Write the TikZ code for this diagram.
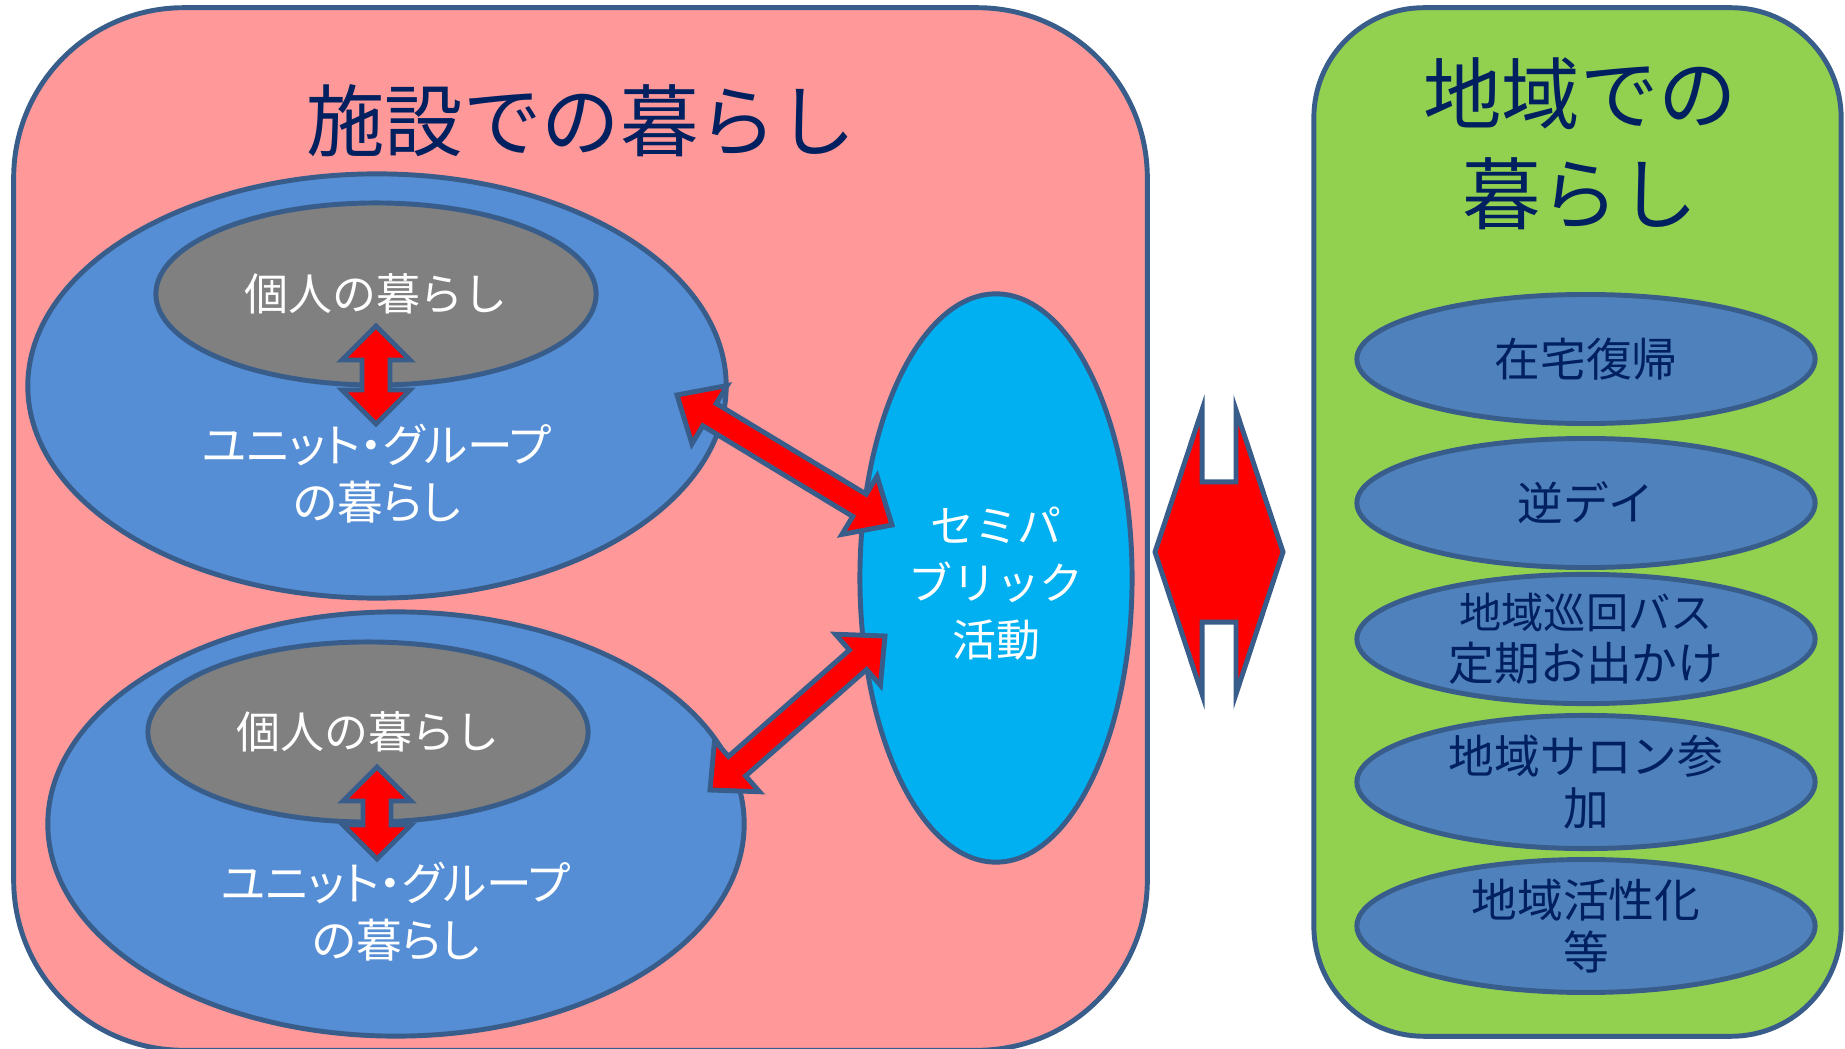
\documentclass[tikz,border=0pt]{standalone}
\usepackage{fontspec}
\setmainfont{Noto Sans CJK JP}
\usetikzlibrary{calc}
\usetikzlibrary{shapes.geometric}

\definecolor{navy}{HTML}{002060}
\definecolor{edge}{HTML}{385D8A}
\definecolor{facility}{HTML}{FF9999}
\definecolor{community}{HTML}{92D050}
\definecolor{unitblue}{HTML}{558ED5}
\definecolor{semipub}{HTML}{00B0F0}
\definecolor{itemblue}{HTML}{4F81BD}

\newcommand\twowayarrow[5]{%
  \draw[fatarrow] (#1) -- ($(#1)!#3!(#2)!#4!90:(#2)$) -- ($(#1)!#3!(#2)!#5!90:(#2)$)
    -- ($(#2)!#3!(#1)!#5!-90:(#1)$) -- ($(#2)!#3!(#1)!#4!-90:(#1)$) -- (#2)
    -- ($(#2)!#3!(#1)!#4!90:(#1)$) -- ($(#2)!#3!(#1)!#5!90:(#1)$)
    -- ($(#1)!#3!(#2)!#5!-90:(#2)$) -- ($(#1)!#3!(#2)!#4!-90:(#2)$) -- cycle;}

\begin{document}
\begin{tikzpicture}[x=0.01cm, y=-0.01cm,
  outline/.style={draw=edge, line width=1.4pt},
  oval/.style={outline, ellipse, inner sep=0pt},
  fatarrow/.style={outline, fill=red, line join=miter},
  headline/.style={text=navy, font=\fontsize{22.3}{28.5}\selectfont, align=center},
  whitetext/.style={text=white, font=\fontsize{12.5}{16.2}\selectfont, align=center},
  unittext/.style={whitetext, font=\fontsize{13}{16.2}\selectfont\addfontfeatures{RawFeature=+palt}},
  navytext/.style={text=navy, font=\fontsize{13}{14.8}\selectfont, align=center}]

  \useasboundingbox (0, 0) rectangle (1845, 1049);

  \node[outline, fill=facility, rounded corners=1.7cm, minimum width=11.33cm, minimum height=10.42cm] (facility) at (580.5, 529) {};
  \node[outline, fill=community, rounded corners=1.1cm, minimum width=5.27cm, minimum height=10.28cm] (community) at (1577.5, 522) {};

  \node[headline] (facilitytitle) at (581, 121) {施設での暮らし};
  \node[headline] (communitytitle) at (1580, 144) {地域での\\暮らし};

  \node[oval, fill=unitblue, minimum width=6.98cm, minimum height=4.24cm] (unitA) at (377, 386) {};
  \node[oval, fill=gray, minimum width=4.4cm, minimum height=1.82cm, whitetext] (personA) at (376, 294) {個人の暮らし};
  \node[unittext] (unitAtext) at (377, 474) {ユニット・グループ\\の暮らし};

  \node[oval, fill=unitblue, minimum width=6.96cm, minimum height=4.24cm] (unitB) at (396, 824) {};
  \node[oval, fill=gray, minimum width=4.4cm, minimum height=1.8cm, whitetext] (personB) at (368, 732) {個人の暮らし};
  \node[unittext] (unitBtext) at (396, 912) {ユニット・グループ\\の暮らし};

  \node[oval, fill=semipub, minimum width=2.72cm, minimum height=5.68cm] (semipublic) at (996, 578) {};
  \node[whitetext] (semipublictext) at (996, 584) {セミパ\\ブリック\\活動};

  \foreach \name/\y/\txt in {home/359/在宅復帰, reverse/503/逆デイ, bus/639/{\fontsize{12}{14.8}\selectfont 地域巡回バス\\定期お出かけ},
      salon/782/{地域サロン参\\加}, revive/926/{地域活性化\\等}} {
    \node[oval, fill=itemblue, minimum width=4.58cm, minimum height=1.29cm, navytext] (\name) at (1586, \y) {\txt};
  }

  \coordinate (pA1) at (376, 326);
  \coordinate (pA2) at (376, 424);
  \coordinate (pB1) at (377, 767);
  \coordinate (pB2) at (377, 859);
  \coordinate (sA1) at (677, 395);
  \coordinate (sA2) at (892, 525);
  \coordinate (sB1) at (885, 636);
  \coordinate (sB2) at (710, 790);
  \coordinate (link1) at (1155, 552);
  \coordinate (link2) at (1283, 552);

  \twowayarrow{pA1}{pA2}{0.34cm}{0.34cm}{0.14cm}
  \twowayarrow{pB1}{pB2}{0.34cm}{0.34cm}{0.14cm}
  \twowayarrow{sA1}{sA2}{0.38cm}{0.34cm}{0.13cm}
  \twowayarrow{sB1}{sB2}{0.36cm}{0.34cm}{0.13cm}
  \twowayarrow{link1}{link2}{0.47cm}{1.42cm}{0.70cm}

\end{tikzpicture}
\end{document}
